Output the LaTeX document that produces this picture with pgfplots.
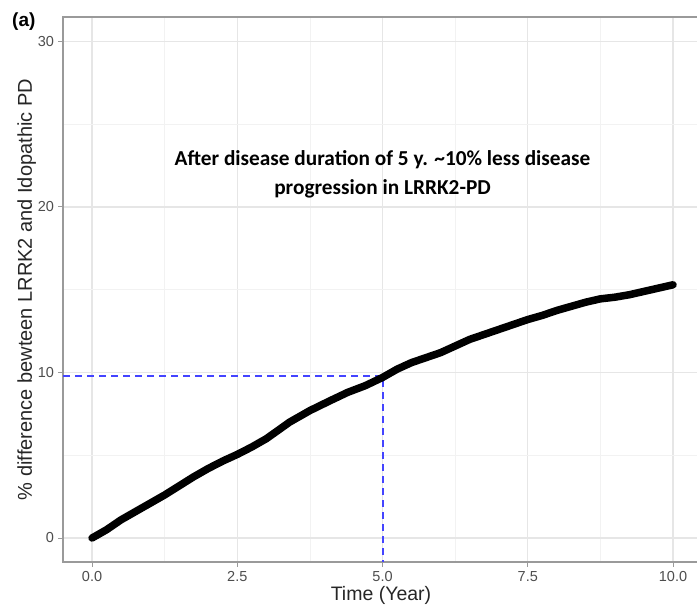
\documentclass[border=0pt]{standalone}
\usepackage{pgfplots}
\pgfplotsset{compat=1.18}
\usepackage{fontspec}
\setmainfont{Liberation Sans}
\newfontfamily\calibri{Carlito}

\definecolor{gridmaj}{HTML}{E6E6E6}
\definecolor{gridmin}{HTML}{F2F2F2}
\definecolor{spine}{HTML}{9A9A9A}
\definecolor{ticktext}{HTML}{4D4D4D}
\definecolor{refblue}{RGB}{68,68,255}

\begin{document}
\begin{tikzpicture}[x=1pt,y=1pt]
\useasboundingbox (0,0) rectangle (697,606);
\node[anchor=west,font=\bfseries\fontsize{19}{22}\selectfont,inner sep=0pt] at (12,584) {(a)};
\begin{axis}[
  at={(63pt,44pt)}, anchor=south west,
  scale only axis, width=636pt, height=545pt,
  xmin=-0.5, xmax=10.447, ymin=-1.45, ymax=31.48,
  xtick={0,2.5,5,7.5,10},
  xticklabels={0.0,2.5,5.0,7.5,10.0},
  minor xtick={1.25,3.75,6.25,8.75},
  ytick={0,10,20,30},
  minor ytick={5,15,25},
  grid=both,
  major grid style={gridmaj, line width=1.1pt},
  minor grid style={gridmin, line width=0.6pt},
  axis line style={spine, line width=1.2pt},
  tick align=outside,
  major tick length=4.5pt,
  minor tick length=0pt,
  tick style={spine, line width=1pt},
  xtick pos=bottom, ytick pos=left,
  /pgf/number format/assume math mode=true,
  tick label style={font=\fontsize{14.5}{16}\selectfont, text=ticktext},
  xticklabel style={yshift=-1pt},
  yticklabel style={xshift=-1pt},
  xlabel={Time (Year)},
  ylabel={\% difference bewteen LRRK2 and Idopathic PD},
  label style={text=black!85},
  xlabel style={font=\fontsize{19.5}{21}\selectfont, yshift=2pt},
  ylabel style={font=\fontsize{20}{22}\selectfont, yshift=-5pt},
  clip=false,
]
% reference lines at 5 years
\addplot[refblue, line width=2pt, dash pattern=on 7pt off 5pt]
  coordinates {(-0.5,9.8) (5,9.8) (5,-1.45)};
% difference curve
\addplot[black, line width=7.5pt, line join=round, line cap=round]
  coordinates {
  (0,0) (0.25,0.5) (0.5,1.1) (0.75,1.6) (1.0,2.1) (1.25,2.6) (1.5,3.15)
  (1.75,3.7) (2.0,4.2) (2.25,4.65) (2.5,5.05) (2.75,5.5) (3.0,6.0) (3.2,6.5)
  (3.4,7.0) (3.75,7.7) (4.1,8.3) (4.4,8.8) (4.7,9.2) (5.0,9.7) (5.25,10.2)
  (5.5,10.6) (5.75,10.9) (6.0,11.2) (6.25,11.6) (6.5,12.0) (6.75,12.3)
  (7.0,12.6) (7.25,12.9) (7.5,13.2) (7.75,13.45) (8.0,13.75) (8.25,14.0)
  (8.5,14.25) (8.75,14.45) (9.0,14.55) (9.25,14.7) (9.5,14.9) (9.75,15.1)
  (10.0,15.3)};
\node[align=center, font=\calibri\bfseries\fontsize{21.3}{29}\selectfont]
  at (axis cs:5.0,22.0)
  {After disease duration of 5 y. \textasciitilde10\% less disease\\progression in LRRK2-PD};
\end{axis}
\end{tikzpicture}
\end{document}
